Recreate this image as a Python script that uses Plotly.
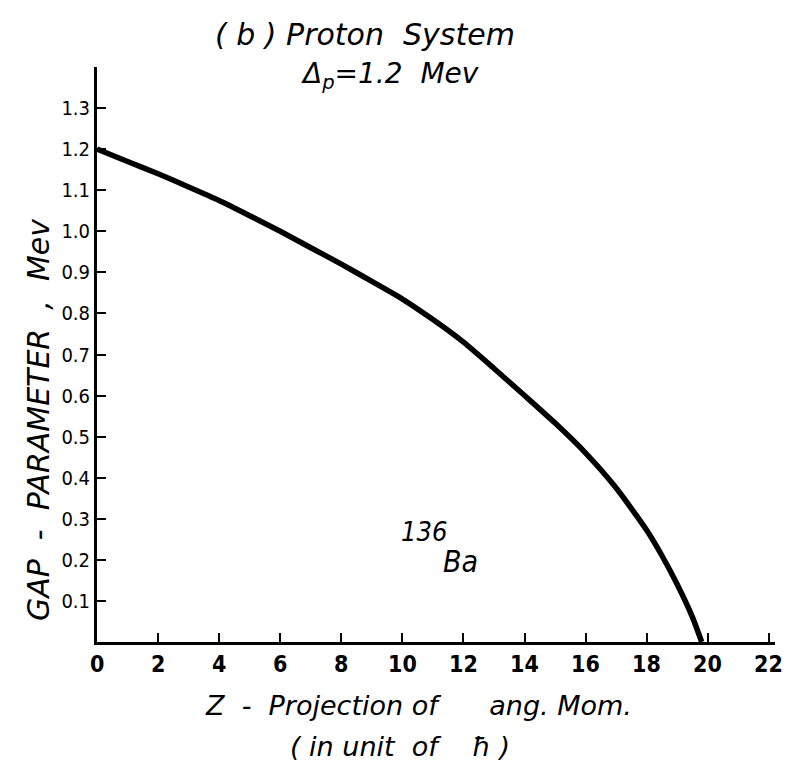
import plotly.graph_objects as go

# Data
m_proj = [0, 1, 2, 3, 4, 5, 6, 7, 8, 9, 10, 11, 12, 13, 14, 15, 16, 17, 18, 18.5, 19, 19.5, 19.8]
gap = [1.20, 1.17, 1.14, 1.108, 1.075, 1.038, 1.00, 0.96, 0.92, 0.878, 0.835, 0.785, 0.730, 0.666, 0.600, 0.533, 0.460, 0.375, 0.272, 0.21, 0.14, 0.06, 0.0]

x_ticks = [2, 4, 6, 8, 10, 12, 14, 16, 18, 20, 22]
x_label_pos = [0, 2, 4, 6, 8, 10, 12, 14, 16, 18, 20, 22]
x_label_txt = ["0", "2", "4", "6", "8", "10", "12", "14", "16", "18", "20", "22"]
y_ticks = [0.1, 0.2, 0.3, 0.4, 0.5, 0.6, 0.7, 0.8, 0.9, 1.0, 1.1, 1.2, 1.3]
y_labels = ["0.1", "0.2", "0.3", "0.4", "0.5", "0.6", "0.7", "0.8", "0.9", "1.0", "1.1", "1.2", "1.3"]

FONT = "DejaVu Sans Condensed, DejaVu Sans, Liberation Sans"
TFONT = "DejaVu Sans, Liberation Sans"

fig = go.Figure()
fig.add_trace(go.Scatter(x=m_proj, y=gap, mode="lines",
                         line=dict(color="black", width=5.5, shape="spline", smoothing=0.6),
                         hoverinfo="skip", showlegend=False))

fig.update_layout(
    width=782, height=769,
    margin=dict(l=89, r=15, t=59, b=135),
    paper_bgcolor="white", plot_bgcolor="white",
    font=dict(family=FONT, color="black"),
    xaxis=dict(range=[0, 22.2], showgrid=False, zeroline=False, automargin=False,
               showline=True, linecolor="black", linewidth=3,
               tickmode="array", tickvals=x_ticks, showticklabels=False,
               ticks="inside", ticklen=9, tickwidth=2, tickcolor="black"),
    yaxis=dict(range=[0, 1.40], showgrid=False, zeroline=False, automargin=False,
               showline=True, linecolor="black", linewidth=3,
               tickmode="array", tickvals=y_ticks, ticktext=y_labels,
               ticks="inside", ticklen=9, tickwidth=2, tickcolor="black",
               tickfont=dict(size=20, family=FONT)),
)

# x tick labels (include 0 at the origin)
for xv, t in zip(x_label_pos, x_label_txt):
    fig.add_annotation(x=xv, y=0, xref="x", yref="y", text="<b>" + t + "</b>",
                       showarrow=False, yanchor="top", yshift=-7,
                       font=dict(size=23, family=FONT))

# titles
fig.add_annotation(x=0.395, y=1.056, xref="paper", yref="paper",
                   text="<i>( b ) Proton  System</i>", showarrow=False,
                   xanchor="center", yanchor="middle",
                   font=dict(size=30, family=TFONT))
fig.add_annotation(x=0.432, y=0.986, xref="paper", yref="paper",
                   text="<i>Δ<sub>p</sub>=1.2  Mev</i>", showarrow=False,
                   xanchor="center", yanchor="middle",
                   font=dict(size=28, family=TFONT))
fig.add_annotation(x=-0.087, y=0.386, xref="paper", yref="paper",
                   text="<i>GAP  -  PARAMETER  ,  Mev</i>", showarrow=False,
                   textangle=-90, xanchor="center", yanchor="middle",
                   font=dict(size=30, family=TFONT))
fig.add_annotation(x=0.474, y=-0.11, xref="paper", yref="paper",
                   text="<i>Z  -  Projection of      ang. Mom.</i>", showarrow=False,
                   xanchor="center", yanchor="middle",
                   font=dict(size=27, family=TFONT))
fig.add_annotation(x=0.447, y=-0.181, xref="paper", yref="paper",
                   text="<i>( in unit  of    ħ )</i>", showarrow=False,
                   xanchor="center", yanchor="middle",
                   font=dict(size=27, family=TFONT))
fig.add_annotation(x=10.7, y=0.27, xref="x", yref="y", text="<i>136</i>",
                   showarrow=False, font=dict(size=27, family=FONT))
fig.add_annotation(x=11.9, y=0.195, xref="x", yref="y", text="<i>Ba</i>",
                   showarrow=False, font=dict(size=30, family=FONT))

fig.write_html("out.html")
